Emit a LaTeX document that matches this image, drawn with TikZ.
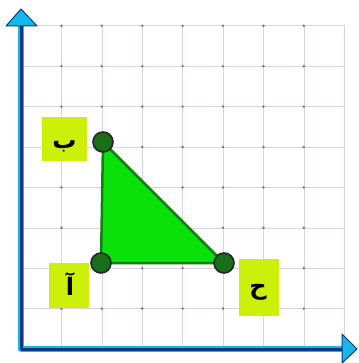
\documentclass[tikz,border=0pt]{standalone}
\usepackage{fontspec}
\newfontfamily\arabicfont[Script=Arabic]{DejaVu Sans}
\TeXXeTstate=1
\definecolor{gridc}{RGB}{222,210,225}
\definecolor{dotc}{RGB}{130,115,135}
\definecolor{axcyan}{RGB}{20,185,235}
\definecolor{axnavy}{RGB}{15,55,130}
\definecolor{trifill}{RGB}{10,225,10}
\definecolor{triedge}{RGB}{15,130,15}
\definecolor{vdark}{RGB}{25,110,25}
\definecolor{lime}{RGB}{205,240,10}
\tikzset{
  gridline/.style={draw=gridc, line width=0.6pt},
  lbl/.style={fill=lime, inner sep=0pt},
  lbltxt/.style={font=\arabicfont\bfseries\fontsize{24}{24}\selectfont, inner sep=0pt},
  vert/.style={circle, fill=vdark, draw=black!85, line width=1.6pt, minimum size=20pt, inner sep=0pt},
  arrowhd/.style={fill=axcyan, draw=axnavy, line width=1pt, line join=round},
}
\begin{document}
\begin{tikzpicture}[x=1pt,y=-1pt]
\useasboundingbox (0,0) rectangle (358,363);
\fill[white] (0,0) rectangle (358,363);
% grid
\foreach \i in {1,...,8} {
  \draw[gridline] ({21+40.4*\i},25) -- ({21+40.4*\i},349);
  \draw[gridline] (21,{349-40.4*\i}) -- (344,{349-40.4*\i});
}
\foreach \i in {1,...,7} \foreach \j in {1,...,8} {
  \fill[dotc] ({21+40.4*\i},{349-40.4*\j}) circle (1.4pt);
}
% axes
\coordinate (ytop) at (21,25);
\coordinate (orig) at (21,349);
\coordinate (xend) at (344,349);
\draw[axcyan, line width=6.5pt, line join=round] (ytop) -- (orig) -- (xend);
\draw[axnavy, line width=3pt, line join=round] (ytop) -- (orig) -- (xend);
\draw[arrowhd] (21,9) -- (37,26) -- (6,26) -- cycle;
\draw[arrowhd] (357,349) -- (342,334) -- (342,363) -- cycle;
% triangle
\coordinate (A) at (101,263);
\coordinate (B) at (103,142);
\coordinate (C) at (224,263);
\draw[fill=trifill, draw=triedge, line width=2.5pt, line join=round] (A) -- (B) -- (C) -- cycle;
\node[vert] (vA) at (A) {};
\node[vert] (vB) at (B) {};
\node[vert] (vC) at (C) {};
% labels
\node[lbl, minimum width=45pt, minimum height=44pt] (lB) at (64.5,139) {};
\node[lbltxt] (tB) at (64.5,146) {\beginR ب\endR};
\node[lbl, minimum width=40pt, minimum height=45pt] (lA) at (69,285.5) {};
\node[lbltxt] (tA) at (70,284) {\beginR آ\endR};
\node[lbl, minimum width=40pt, minimum height=57pt] (lC) at (259,287.5) {};
\node[lbltxt] (tC) at (258,292) {\beginR ح\endR};
\end{tikzpicture}
\end{document}
